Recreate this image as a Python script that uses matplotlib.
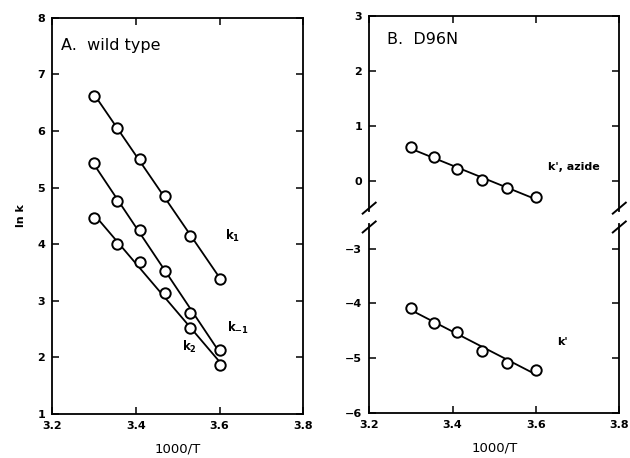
import numpy as np
import matplotlib.pyplot as plt

plt.rcParams['font.family'] = ['DejaVu Sans']
plt.rcParams['mathtext.default'] = 'bf'

# 1000/T values (same for both panels)
inv_T = np.array([3.30, 3.355, 3.41, 3.47, 3.53, 3.60])

# A. wild type
ln_k1 = np.array([6.62, 6.05, 5.51, 4.86, 4.14, 3.39])
ln_km1 = np.array([5.43, 4.76, 4.26, 3.53, 2.78, 2.14])
ln_k2 = np.array([4.47, 4.01, 3.68, 3.13, 2.52, 1.86])

# B. D96N
ln_kp_azide = np.array([0.62, 0.45, 0.22, 0.02, -0.12, -0.28])
ln_kp = np.array([-4.08, -4.35, -4.52, -4.86, -5.09, -5.21])

xticks = [3.2, 3.4, 3.6, 3.8]


def fit_line(ax, x, y):
    # straight-line fit through the points, drawn over the data range
    p = np.polyfit(x, y, 1)
    xs = np.array([x.min(), x.max()])
    ax.plot(xs, np.polyval(p, xs), color='black', lw=1.3, zorder=2)
    ax.plot(x, y, 'o', ms=7.5, mfc='white', mec='black', mew=1.4, zorder=3)


def style(ax):
    ax.tick_params(direction='in', length=5, width=1.1, labelsize=8,
                   top=True, right=True, pad=5)
    for s in ax.spines.values():
        s.set_linewidth(1.3)
    for lab in ax.get_xticklabels() + ax.get_yticklabels():
        lab.set_fontweight('bold')


fig = plt.figure(figsize=(6.3, 4.58), dpi=100)

# ---- panel A ----
axA = fig.add_axes([0.0825, 0.096, 0.399, 0.865])
fit_line(axA, inv_T, ln_k1)
fit_line(axA, inv_T, ln_km1)
fit_line(axA, inv_T, ln_k2)
axA.set_xlim(3.2, 3.8)
axA.set_ylim(1, 8)
axA.set_xticks(xticks)
axA.set_yticks(range(1, 9))
style(axA)
axA.set_xlabel('1000/T', fontsize=9.5, labelpad=8)
axA.set_ylabel('ln k', fontsize=8, fontweight='bold', labelpad=8)
axA.text(0.035, 0.93, 'A.  wild type', transform=axA.transAxes,
         fontsize=11.5, va='center')
axA.text(3.612, 4.07, 'k$_1$', fontsize=8.5, fontweight='bold')
axA.text(3.617, 2.45, 'k$_{-1}$', fontsize=8.5, fontweight='bold')
axA.text(3.51, 2.11, 'k$_2$', fontsize=8.5, fontweight='bold')

# ---- panel B (broken y axis) ----
left, width = 0.586, 0.397
axB1 = fig.add_axes([left, 0.539, width, 0.426])
axB2 = fig.add_axes([left, 0.098, width, 0.413])

fit_line(axB1, inv_T, ln_kp_azide)
fit_line(axB2, inv_T, ln_kp)

axB1.set_xlim(3.2, 3.8)
axB2.set_xlim(3.2, 3.8)
axB1.set_ylim(-0.54, 3)
axB2.set_ylim(-6, -2.55)
axB1.set_xticks(xticks)
axB2.set_xticks(xticks)
axB1.set_yticks([0, 1, 2, 3])
axB2.set_yticks([-6, -5, -4, -3])
axB2.set_yticklabels(['\u22126', '\u22125', '\u22124', '\u22123'])
style(axB1)
style(axB2)
axB1.spines['bottom'].set_visible(False)
axB1.tick_params(bottom=False, labelbottom=False)
axB2.spines['top'].set_visible(False)
axB2.tick_params(top=False)
axB2.set_xlabel('1000/T', fontsize=9.5, labelpad=8)

axB1.text(0.07, 0.88, 'B.  D96N', transform=axB1.transAxes,
          fontsize=11.5, va='center')
axB1.text(3.63, 0.2, "k', azide", fontsize=8, fontweight='bold')
axB2.text(3.65, -4.75, "k'", fontsize=8, fontweight='bold')

# break marks on both spines
fw, fh = 630.0, 458.0
ax_w = width * fw
dx = 6.5 / ax_w
for ax, yv in ((axB1, 0.0), (axB2, 1.0)):
    ax_h = ax.get_position().height * fh
    dy = 5.5 / ax_h
    off = 3.0 / ax_h if yv == 0.0 else -3.0 / ax_h
    for xv in (0.0, 1.0):
        ax.plot([xv - dx, xv + dx], [yv + off - dy, yv + off + dy],
                transform=ax.transAxes, color='black', lw=1.4,
                clip_on=False)

fig.savefig('out.png', dpi=100)
